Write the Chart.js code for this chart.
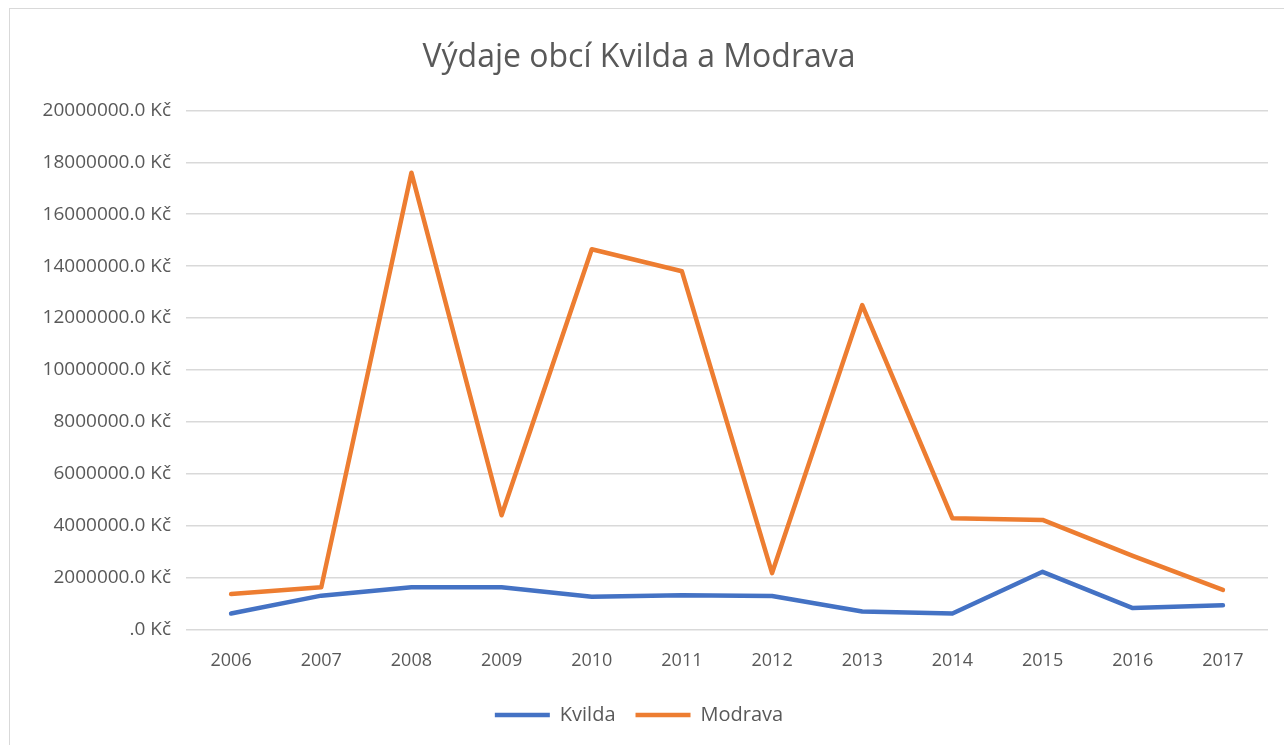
<!DOCTYPE html>
<html lang="cs">
<head>
    <meta charset="UTF-8">
    <title>Výdaje obcí Kvilda a Modrava</title>
    <script src="https://cdn.jsdelivr.net/npm/chart.js"></script>
    <style>
        body {
            margin: 0;
            padding: 0;
            background: #fff;
        }
        .chart-box {
            position: absolute;
            left: 9px;
            top: 8px;
            width: 1280px;
            height: 740px;
            border: 1px solid #d9d9d9;
            box-sizing: border-box;
        }
    </style>
</head>
<body>

<div class="chart-box">
    <canvas id="vydajeChart"></canvas>
</div>

<script>
    const years = ["2006", "2007", "2008", "2009", "2010", "2011", "2012", "2013", "2014", "2015", "2016", "2017"];
    const kvilda = [615000, 1300000, 1620000, 1620000, 1260000, 1320000, 1290000, 690000, 610000, 2220000, 820000, 930000];
    const modrava = [1360000, 1620000, 17600000, 4400000, 14650000, 13800000, 2170000, 12500000, 4280000, 4220000, 2830000, 1520000];
    const yTicks = [0, 2000000, 4000000, 6000000, 8000000, 10000000, 12000000, 14000000, 16000000, 18000000, 20000000];

    const textColor = "#595959";
    const fontFamily = "'Open Sans', Lato, sans-serif";

    const ctx = document.getElementById("vydajeChart").getContext("2d");
    const vydajeChart = new Chart(ctx, {
        type: "line",
        data: {
            labels: years,
            datasets: [{
                label: "Kvilda",
                data: kvilda,
                borderColor: "#4472C4",
                backgroundColor: "#4472C4",
                borderWidth: 4.5,
                borderCapStyle: "round",
                borderJoinStyle: "round",
                pointRadius: 0,
                tension: 0
            }, {
                label: "Modrava",
                data: modrava,
                borderColor: "#ED7D31",
                backgroundColor: "#ED7D31",
                borderWidth: 4.5,
                borderCapStyle: "round",
                borderJoinStyle: "round",
                pointRadius: 0,
                tension: 0
            }]
        },
        options: {
            responsive: true,
            maintainAspectRatio: false,
            animation: false,
            layout: {
                padding: { left: 0, right: 20, top: 0, bottom: 12 }
            },
            plugins: {
                title: {
                    display: true,
                    text: "Výdaje obcí Kvilda a Modrava",
                    color: textColor,
                    font: { family: fontFamily, size: 32, weight: "normal" },
                    padding: { top: 30, bottom: 33 }
                },
                legend: {
                    position: "bottom",
                    labels: {
                        color: textColor,
                        font: { family: fontFamily, size: 20 },
                        usePointStyle: true,
                        pointStyle: "line",
                        pointStyleWidth: 55,
                        padding: 20
                    }
                },
                tooltip: { enabled: false }
            },
            scales: {
                x: {
                    offset: true,
                    grid: { display: false },
                    border: { display: false },
                    ticks: {
                        color: textColor,
                        font: { family: fontFamily, size: 18 },
                        padding: 13,
                        maxRotation: 0
                    }
                },
                y: {
                    min: 0,
                    max: 20000000,
                    afterBuildTicks: (axis) => {
                        axis.ticks = yTicks.map(v => ({ value: v }));
                    },
                    afterFit: (axis) => {
                        axis.width = 176;
                    },
                    grid: {
                        color: "#d9d9d9",
                        lineWidth: 1.5,
                        drawTicks: false
                    },
                    border: { display: false },
                    ticks: {
                        color: textColor,
                        font: { family: fontFamily, size: 19 },
                        padding: 15,
                        callback: (v) => (v === 0 ? "" : v) + ".0 Kč"
                    }
                }
            }
        }
    });
</script>

</body>
</html>
